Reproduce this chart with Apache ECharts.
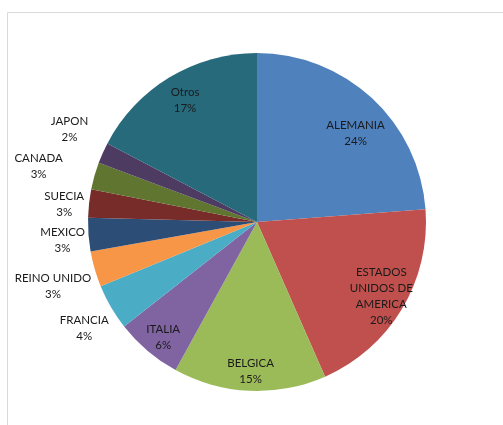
<!DOCTYPE html>
<html><head><meta charset="utf-8">
<script src="https://cdn.jsdelivr.net/npm/echarts@6/dist/echarts.min.js"></script>
<style>html,body{margin:0;padding:0;background:#fff}#c{width:503px;height:425px}</style>
</head><body><div id="c"></div>
<script>
const categories = ['ALEMANIA','ESTADOS\nUNIDOS DE\nAMERICA','BELGICA','ITALIA','FRANCIA','REINO UNIDO','MEXICO','SUECIA','CANADA','JAPON','Otros'];
const values = [23.8, 19.6, 14.6, 6.4, 4.4, 3.4, 3.2, 2.7, 2.6, 2.0, 17.3];
const colors = ['#4F81BD','#C0504D','#9BBB59','#8064A2','#4BACC6','#F79646','#2C4D75','#772C2A','#5F7530','#4D3B62','#276A7C'];

// label nudges (style only)
const labelNudge = {'ALEMANIA':[0,18], 'BELGICA':[0,4], 'ITALIA':[0,5], 'Otros':[3,2],
  'JAPON':[-5,-11], 'CANADA':[-26,-1], 'SUECIA':[6,4], 'MEXICO':[5,3], 'REINO UNIDO':[-12,8], 'FRANCIA':[0,6]};
// slices whose label is tied back with a thin leader line
const leaderFor = ['CANADA','JAPON'];

const chart = echarts.init(document.getElementById('c'), null, {renderer:'canvas'});
const R = 169;
const center = [257, 222];
const font = {fontFamily:'Lato, "Open Sans", sans-serif', fontSize:11.5, color:'#1a1a1a', lineHeight:16, align:'center', overflow:'none'};
const fmt = p => p.name + '\n' + Math.round(p.percent) + '%';

const pieData = categories.map((n,i)=>({name:n, value:values[i], itemStyle:{color:colors[i]}}));
const innerLabels = categories.map((n,i)=>({
  name:n, value:values[i],
  label:{show: values[i] >= 5, position:'inside', offset: labelNudge[n] || [0,0], ...font}
}));
const outerLabels = categories.map((n,i)=>({
  name:n, value:values[i],
  label:{show: values[i] < 5, position:'inside', offset: labelNudge[n] || [0,0], ...font}
}));
const leaderData = categories.map((n,i)=> leaderFor.includes(n)
  ? {name:n, value:values[i]}
  : {name:n, value:values[i], label:{show:false}, labelLine:{show:false}});

const ring = (radius, data) => ({
  type:'pie', center:center, radius:radius, startAngle:90, clockwise:true, silent:true,
  itemStyle:{color:'rgba(0,0,0,0)'}, labelLine:{show:false},
  label:{formatter:fmt}, data:data
});

chart.setOption({
  animation:false,
  backgroundColor:'#fff',
  graphic:[{type:'rect', shape:{x:7.5, y:12.5, width:520, height:440}, style:{fill:'none', stroke:'#d9d9d9', lineWidth:1}, silent:true}],
  series:[
    {type:'pie', center:center, radius:[0,R], startAngle:90, clockwise:true, silent:true,
     label:{show:false}, labelLine:{show:false}, data:pieData},
    ring([R*0.68, R], innerLabels),
    ring([R, 225], outerLabels),
    {type:'pie', center:center, radius:[R-2, R], startAngle:90, clockwise:true, silent:true,
     itemStyle:{color:'rgba(255,255,255,0)'}, avoidLabelOverlap:false,
     label:{show:true, position:'outside', formatter:'.', fontSize:8, color:'rgba(255,255,255,0.01)'},
     labelLine:{show:true, length:20, length2:7, lineStyle:{color:'#a6a6a6', width:1}},
     data:leaderData}
  ]
});
</script></body></html>
